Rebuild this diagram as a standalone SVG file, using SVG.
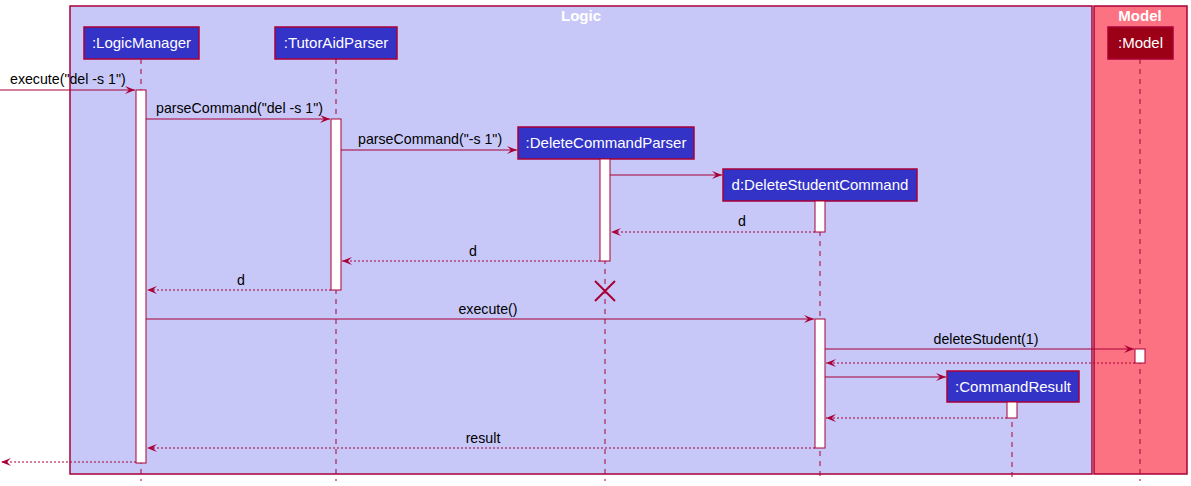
<svg xmlns="http://www.w3.org/2000/svg" width="1191" height="486" viewBox="0 0 1191 486">
<style>
.box{stroke:#A80036;stroke-width:1.5}
.part{fill:#3333C8;stroke:#A80036;stroke-width:1.5}
.ptxt{font-family:"Liberation Sans",Arial,sans-serif;font-size:15px;fill:#FFFFFF;text-anchor:middle}
.ttl{font-family:"Liberation Sans",Arial,sans-serif;font-size:15px;font-weight:bold;fill:#FFFFFF;text-anchor:middle}
.life{stroke:#A80036;stroke-width:1;stroke-dasharray:5,5;fill:none}
.act{fill:#FFFFFF;stroke:#A80036;stroke-width:1}
.msg{stroke:#A80036;stroke-width:1;fill:none}
.ret{stroke:#A80036;stroke-width:1;fill:none;stroke-dasharray:2,2}
.lbl{font-family:"Liberation Sans",Arial,sans-serif;font-size:14.2px;fill:#000000}
</style>
<defs>
<marker id="ah" markerWidth="12" markerHeight="10" refX="11" refY="5" orient="auto" markerUnits="userSpaceOnUse">
<polygon points="1,1 11,5 1,9 5,5" fill="#A80036"/>
</marker>
</defs>
<g id="frames">
<rect class="box" x="70" y="6" width="1022" height="468" fill="#C8C8F8"/>
<text class="ttl" x="581" y="21">Logic</text>
<rect class="box" x="1094" y="6" width="93" height="468" fill="#FC7282"/>
<text class="ttl" x="1140" y="21">Model</text>
</g>
<g id="lifelines">
<line class="life" x1="141" y1="59" x2="141" y2="481"/>
<line class="life" x1="336" y1="59" x2="336" y2="481"/>
<line class="life" x1="605" y1="159" x2="605" y2="481"/>
<line class="life" x1="820" y1="201" x2="820" y2="481"/>
<line class="life" x1="1140" y1="59" x2="1140" y2="481"/>
<line class="life" x1="1012" y1="402" x2="1012" y2="481"/>
</g>
<g id="LogicManager">
<rect class="part" x="84" y="27" width="115" height="32"/>
<text class="ptxt" x="141.5" y="48">:LogicManager</text>
<rect class="act" x="136" y="90" width="10" height="373"/>
</g>
<g id="TutorAidParser">
<rect class="part" x="275" y="27" width="122" height="32"/>
<text class="ptxt" x="336" y="48">:TutorAidParser</text>
<rect class="act" x="331" y="119" width="10" height="171"/>
</g>
<g id="DeleteCommandParser">
<rect class="part" x="518" y="127" width="176" height="32"/>
<text class="ptxt" x="606" y="148">:DeleteCommandParser</text>
<rect class="act" x="600" y="159" width="10" height="102"/>
<path d="M595,281 L615,301 M615,281 L595,301" stroke="#A80036" stroke-width="2" fill="none"/>
</g>
<g id="DeleteStudentCommand">
<rect class="part" x="723" y="169" width="194" height="32"/>
<text class="ptxt" x="820" y="190">d:DeleteStudentCommand</text>
<rect class="act" x="815" y="201" width="10" height="31"/>
<rect class="act" x="815" y="319" width="10" height="129"/>
</g>
<g id="Model">
<rect class="part" x="1108" y="27" width="65" height="32" style="fill:#9B0016"/>
<text class="ptxt" x="1140.5" y="48">:Model</text>
<rect class="act" x="1135" y="349" width="10" height="14"/>
</g>
<g id="CommandResult">
<rect class="part" x="947" y="371" width="132" height="31"/>
<text class="ptxt" x="1013" y="392">:CommandResult</text>
<rect class="act" x="1007" y="402" width="10" height="16"/>
</g>
<g id="connectors">
<line class="msg" x1="0" y1="90" x2="135" y2="90" marker-end="url(#ah)"/>
<text class="lbl" x="10" y="84">execute("del -s 1")</text>
<line class="msg" x1="146" y1="119" x2="330" y2="119" marker-end="url(#ah)"/>
<text class="lbl" x="156" y="113">parseCommand("del -s 1")</text>
<line class="msg" x1="341" y1="150" x2="517" y2="150" marker-end="url(#ah)"/>
<text class="lbl" x="358" y="144">parseCommand("-s 1")</text>
<line class="msg" x1="610" y1="175" x2="722" y2="175" marker-end="url(#ah)"/>
<line class="ret" x1="815" y1="232" x2="611" y2="232" marker-end="url(#ah)"/>
<text class="lbl" x="738" y="226">d</text>
<line class="ret" x1="600" y1="261" x2="342" y2="261" marker-end="url(#ah)"/>
<text class="lbl" x="469" y="256">d</text>
<line class="ret" x1="331" y1="290" x2="147" y2="290" marker-end="url(#ah)"/>
<text class="lbl" x="237" y="285">d</text>
<line class="msg" x1="146" y1="319" x2="814" y2="319" marker-end="url(#ah)"/>
<text class="lbl" x="488" y="314" text-anchor="middle">execute()</text>
<line class="msg" x1="825" y1="349" x2="1134" y2="349" marker-end="url(#ah)"/>
<text class="lbl" x="986" y="344" text-anchor="middle">deleteStudent(1)</text>
<line class="ret" x1="1135" y1="363" x2="826" y2="363" marker-end="url(#ah)"/>
<line class="msg" x1="825" y1="377" x2="946" y2="377" marker-end="url(#ah)"/>
<line class="ret" x1="1007" y1="418" x2="826" y2="418" marker-end="url(#ah)"/>
<line class="ret" x1="815" y1="448" x2="147" y2="448" marker-end="url(#ah)"/>
<text class="lbl" x="483" y="443" text-anchor="middle">result</text>
<line class="ret" x1="136" y1="462" x2="1" y2="462" marker-end="url(#ah)"/>
</g>
</svg>
